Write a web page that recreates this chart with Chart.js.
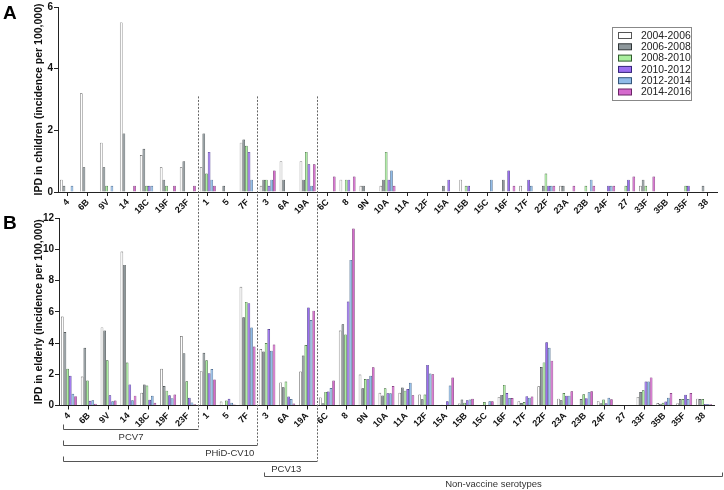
<!DOCTYPE html>
<html><head><meta charset="utf-8">
<script src="https://cdn.jsdelivr.net/npm/chart.js@4"></script>
<style>
html,body{margin:0;padding:0;background:#fff;}
#wrap{position:relative;width:724px;height:490px;overflow:hidden;background:#fff;}
canvas{position:absolute;left:0;top:0;}
</style></head><body>
<div id="wrap"><canvas id="cA" width="724" height="490"></canvas><canvas id="cB" width="724" height="490"></canvas></div>
<script>
const serotypes = ['4','6B','9V','14','18C','19F','23F','1','5','7F','3','6A','19A','6C','8','9N','10A','11A','12F','15A','15B','15C','16F','17F','22F','23A','23B','24F','27','33F','35B','35F','38'];
const periods = ['2004-2006','2006-2008','2008-2010','2010-2012','2012-2014','2014-2016'];

// Panel A: IPD in children (incidence per 100,000)
const children2004 = [0.4,3.2,1.6,5.5,1.2,0.8,0.8,0.8,0,1.6,0.2,1.0,1.0,0,0.4,0.2,0.2,0,0,0,0.4,0,0,0.2,0,0.2,0,0,0,0.2,0,0,0];
const children2006 = [0.2,0.8,0.8,1.9,1.4,0.4,1.0,1.9,0.2,1.7,0.4,0.4,0.4,0,0,0.2,0.4,0,0,0.2,0,0,0.4,0,0.2,0.2,0,0,0,0.4,0,0,0.2];
const children2008 = [0,0,0.2,0,0.2,0.2,0,0.6,0,1.5,0.4,0,1.3,0,0.4,0,1.3,0,0,0,0.2,0,0,0,0.6,0,0.2,0,0.2,0.2,0,0.2,0];
const children2010 = [0,0,0,0,0.2,0,0,1.3,0,1.3,0.2,0,0.9,0,0.4,0,0.4,0,0,0.4,0.2,0,0.7,0.4,0.2,0,0,0.2,0.4,0,0,0.2,0];
const children2012 = [0.2,0,0.2,0,0.2,0,0,0.4,0,0.4,0.4,0,0.2,0,0,0,0.7,0,0,0,0,0.4,0,0.2,0.2,0,0.4,0.2,0,0,0,0,0];
const children2014 = [0,0,0,0.2,0,0.2,0.2,0.2,0,0,0.7,0,0.9,0.5,0.5,0,0.2,0,0,0,0,0,0.2,0,0.2,0.2,0.2,0.2,0.5,0.5,0,0,0];

// Panel B: IPD in elderly (incidence per 100,000)
const elderly2004 = [5.7,1.85,5.0,9.85,0.82,2.35,4.45,2.2,0.25,7.6,3.62,1.48,2.17,0.52,4.8,1.98,0.82,0.82,0.7,0.04,0.13,0,0.55,0.28,1.23,0.44,0,0.28,0.05,0.55,0.16,0.15,0.44];
const elderly2006 = [4.7,3.7,4.8,9.0,1.35,1.25,3.35,3.37,0.02,5.65,3.45,1.17,3.2,0.15,5.2,1.1,0.64,1.15,0.4,0.05,0.38,0.03,0.68,0.16,2.46,0.34,0.42,0.15,0.02,0.86,0.12,0.42,0.42];
const elderly2008 = [2.35,1.6,2.9,2.75,1.28,0.95,1.55,2.9,0.32,6.63,4.0,1.54,3.87,0.87,4.55,1.7,1.1,0.95,0.7,0.04,0.17,0.22,1.32,0.22,2.76,0.8,0.72,0.39,0,0.97,0.17,0.42,0.42];
const elderly2010 = [1.9,0.3,0.66,1.35,0.37,0.65,0.5,2.07,0.43,6.55,4.9,0.58,6.28,0.89,6.65,1.68,0.78,1.05,2.6,0.27,0.34,0,0.8,0.6,4.05,0.62,0.47,0.15,0.03,1.53,0.26,0.69,0.1];
const elderly2012 = [0.75,0.33,0.27,0.33,0.62,0.47,0.2,2.33,0.18,5.0,3.5,0.42,5.47,1.12,9.32,1.9,0.78,1.45,2.05,1.28,0.38,0.27,0.48,0.5,3.69,0.63,0.85,0.49,0.04,1.54,0.5,0.42,0.1];
const elderly2014 = [0.6,0.12,0.32,0.63,0.18,0.7,0.08,1.67,0.06,3.78,3.9,0.13,6.07,1.6,11.33,2.45,1.25,0.65,2.0,1.8,0.43,0.27,0.48,0.58,2.87,0.91,0.91,0.4,0.04,1.8,0.8,0.8,0.08];

const yTicksA = [0,2,4,6];
const yTicksB = [0,2,4,6,8,10,12];

// vaccine groupings: [label, firstIndex, lastIndex]
const vaccineGroups = [['PCV7',0,6],['PHiD-CV10',0,9],['PCV13',0,12],['Non-vaccine serotypes',13,32]];

const fills = ['#ffffff','#8d979b','#a9ee9e','#9b6ef0','#8fbbe8','#d56acd'];
const edges = ['#555555','#2f3537','#2f5a2c','#34247a','#34557a','#6a2466'];
const FONT = 'Liberation Sans, Arial, Helvetica, sans-serif';

function datasets(arrs){
  return arrs.map((d,i)=>({label:periods[i], data:d, backgroundColor:fills[i], borderColor:edges[i],
    borderWidth:0.7, barPercentage:1.0, categoryPercentage:0.8}));
}

function options(yTicks, title, pad, yWidth){
  return {
    responsive:false, animation:false, devicePixelRatio:1,
    layout:{padding:pad},
    plugins:{legend:{display:false}, tooltip:{enabled:false}},
    scales:{
      x:{type:'category', offset:true,
        grid:{display:true, offset:false, drawOnChartArea:false, drawTicks:true, tickLength:4, color:'#222', lineWidth:1},
        border:{display:true, color:'#222', width:1},
        ticks:{autoSkip:false, minRotation:45, maxRotation:45, padding:1, color:'#111',
          font:{family:FONT, size:9, weight:'bold'}},
        afterFit(s){ s.height = 22; }
      },
      y:{min:yTicks[0], max:yTicks[yTicks.length-1],
        afterBuildTicks(s){ s.ticks = yTicks.map(v=>({value:v})); },
        grid:{display:true, drawOnChartArea:false, drawTicks:true, tickLength:4, color:'#222', lineWidth:1},
        border:{display:true, color:'#222', width:1},
        ticks:{padding:1, color:'#111', font:{family:FONT, size:10, weight:'bold'}},
        title:{display:true, text:title, color:'#111', padding:{top:33,bottom:0},
          font:{family:FONT, size:10.5, weight:'bold'}},
        afterFit(s){ s.width = yWidth; }
      }
    }
  };
}

const legendPlugin = {
  id:'legendBox',
  afterDraw(chart){
    const ctx = chart.ctx, ca = chart.chartArea;
    ctx.save();
    ctx.font = 'bold 19px ' + FONT; ctx.fillStyle = '#000'; ctx.textBaseline = 'alphabetic';
    ctx.fillText('A', 3, 19);
    const bx = ca.right - 105, by = ca.top + 20, bw = 79, bh = 73;
    ctx.strokeStyle = '#888'; ctx.lineWidth = 1;
    ctx.strokeRect(bx+0.5, by+0.5, bw, bh);
    ctx.font = '10.4px ' + FONT; ctx.textBaseline = 'middle';
    chart.data.datasets.forEach((ds,i)=>{
      const cy = by + 8.5 + i*11.3;
      ctx.fillStyle = ds.backgroundColor; ctx.fillRect(bx+6.5, cy-3, 13, 6);
      ctx.strokeStyle = ds.borderColor; ctx.strokeRect(bx+6.5, cy-3, 13, 6);
      ctx.fillStyle = '#222'; ctx.fillText(ds.label, bx+29, cy+0.5);
    });
    ctx.restore();
  }
};

const chartA = new Chart(document.getElementById('cA'), {
  type:'bar',
  data:{labels:serotypes, datasets:datasets([children2004,children2006,children2008,children2010,children2012,children2014])},
  options:options(yTicksA, 'IPD in children (incidence per 100,000)', {left:0, top:6, right:7, bottom:276}, 58),
  plugins:[legendPlugin]
});

const annotPlugin = {
  id:'groups',
  afterDraw(chart){
    const ctx = chart.ctx, xs = chart.scales.x, ca = chart.chartArea;
    const yA = chartA.scales.y;
    const step = xs.getPixelForValue(1) - xs.getPixelForValue(0);
    ctx.save();
    ctx.font = 'bold 19px ' + FONT; ctx.fillStyle = '#000'; ctx.textBaseline = 'alphabetic';
    ctx.fillText('B', 3, 229);
    const yTop = yA.getPixelForValue(3.1);
    const rows = [ca.bottom+23.5, ca.bottom+39.5, ca.bottom+55.5, ca.bottom+70.5];
    const leftX = xs.getPixelForValue(0) - 0.32*step;
    // dashed separators
    ctx.strokeStyle = '#666'; ctx.lineWidth = 1; ctx.setLineDash([2,1.5]);
    for (let g=0; g<3; g++){
      const last = vaccineGroups[g][2];
      const x = Math.round((xs.getPixelForValue(last)+xs.getPixelForValue(last+1))/2) + 0.5;
      ctx.beginPath(); ctx.moveTo(x, yTop); ctx.lineTo(x, rows[g]); ctx.stroke();
    }
    ctx.setLineDash([]);
    ctx.strokeStyle = '#555';
    ctx.font = '9.5px ' + FONT; ctx.fillStyle = '#333'; ctx.textAlign = 'center'; ctx.textBaseline = 'middle';
    const labelPos = [null, 8.1, 10.95, null];
    vaccineGroups.forEach((g,i)=>{
      const y = Math.round(rows[i]) + 0.5;
      let x0, x1;
      if (i < 3){
        x0 = Math.round(leftX)+0.5;
        x1 = Math.round((xs.getPixelForValue(g[2])+xs.getPixelForValue(g[2]+1))/2)+0.5;
        ctx.beginPath(); ctx.moveTo(x0, y-5); ctx.lineTo(x0, y); ctx.lineTo(x1, y); ctx.stroke();
      } else {
        x0 = Math.round(xs.getPixelForValue(g[1]-3) - 0.19*step)+0.5;
        x1 = chart.width - 1.5;
        ctx.beginPath(); ctx.moveTo(x0, y-4); ctx.lineTo(x0, y); ctx.lineTo(x1, y); ctx.lineTo(x1, y-4); ctx.stroke();
      }
      const tx = labelPos[i] === null ? (x0+x1)/2 : xs.getPixelForValue(0) + labelPos[i]*step;
      ctx.fillText(g[0], tx, y + 8);
    });
    ctx.restore();
  }
};

const chartB = new Chart(document.getElementById('cB'), {
  type:'bar',
  data:{labels:serotypes, datasets:datasets([elderly2004,elderly2006,elderly2008,elderly2010,elderly2012,elderly2014])},
  options:options(yTicksB, 'IPD in elderly (incidence per 100,000)', {left:0, top:218, right:10, bottom:62.5}, 59),
  plugins:[annotPlugin]
});
</script>
</body></html>
